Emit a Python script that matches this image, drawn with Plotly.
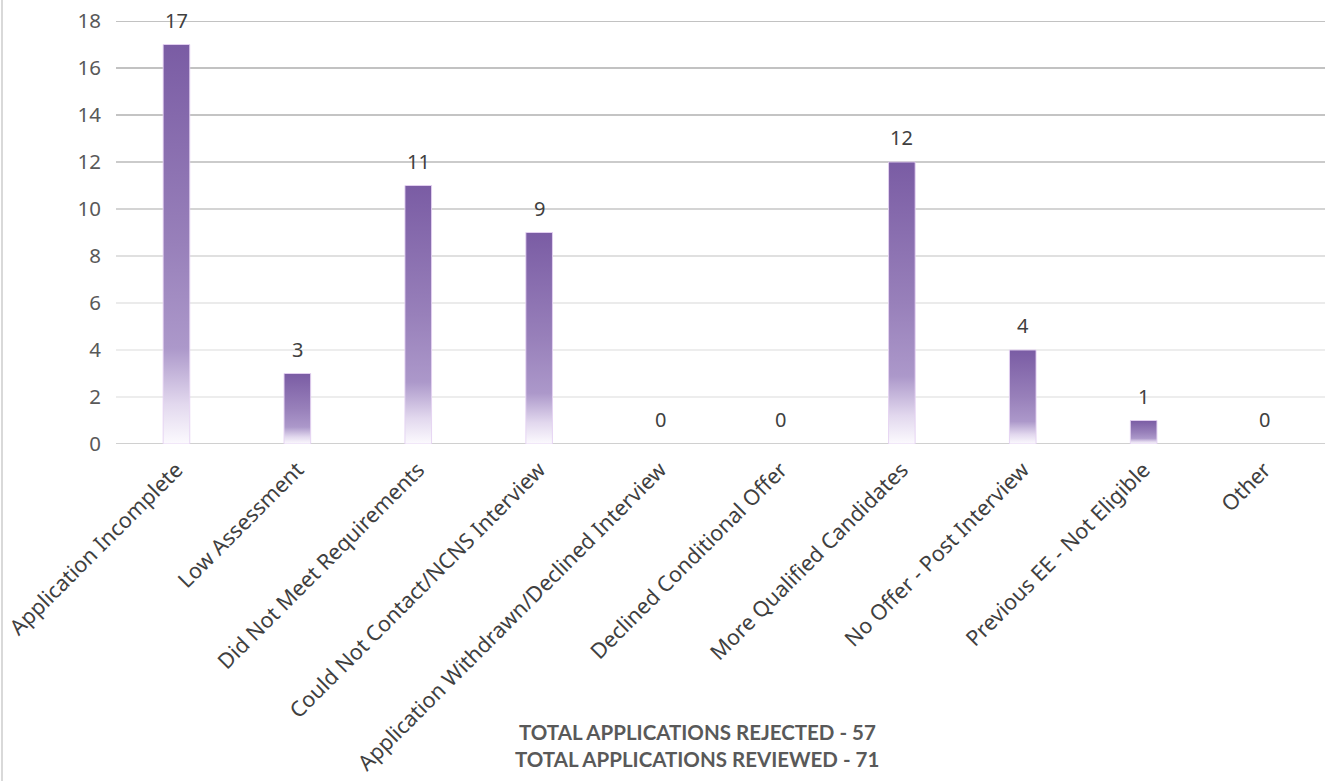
import plotly.graph_objects as go

categories = [
    "Application Incomplete",
    "Low Assessment",
    "Did Not Meet Requirements",
    "Could Not Contact/NCNS Interview",
    "Application Withdrawn/Declined Interview",
    "Declined Conditional Offer",
    "More Qualified Candidates",
    "No Offer - Post Interview",
    "Previous EE - Not Eligible",
    "Other",
]
counts = [17, 3, 11, 9, 0, 0, 12, 4, 1, 0]
y_ticks = [0, 2, 4, 6, 8, 10, 12, 14, 16, 18]
footer_lines = [
    "TOTAL APPLICATIONS REJECTED - 57",
    "TOTAL APPLICATIONS REVIEWED - 71",
]

W, H = 1333, 781
M_L, M_R, M_T, M_B = 116, 8, 21, 337
HALF_W = 0.11  # half bar width in category units
FONT = "Noto Sans, Open Sans, sans-serif"

# purple at the top, lavender through the body, fading to white at the base
bar_scale = [
    [0.0, "rgb(252,250,254)"],
    [0.1, "rgb(226,216,238)"],
    [0.24, "rgb(172,152,202)"],
    [0.5, "rgb(152,128,186)"],
    [1.0, "rgb(122,92,164)"],
]

fig = go.Figure()

for i, v in enumerate(counts):
    if v <= 0:
        continue
    fig.add_trace(go.Scatter(
        x=[i - HALF_W, i - HALF_W, i + HALF_W, i + HALF_W, i - HALF_W],
        y=[0, v, v, 0, 0],
        mode="lines",
        fill="toself",
        fillgradient=dict(type="vertical", colorscale=bar_scale, start=0, stop=v),
        line=dict(color="rgba(228,210,242,0.9)", width=1),
        hoverinfo="text",
        text=f"{categories[i]}: {v}",
        showlegend=False,
    ))

# value labels above each bar
for i, v in enumerate(counts):
    fig.add_annotation(
        x=i, y=v, text=str(v), showarrow=False,
        yanchor="bottom", yshift=9,
        font=dict(family=FONT, size=20, color="#404040"),
    )

# horizontal gridlines, darker toward the top
grid_colors = {0: "#d0d0d0", 2: "#ededed", 4: "#ededed", 6: "#ebebeb", 8: "#e0e0e0",
               10: "#d4d4d4", 12: "#cbcbcb", 14: "#c4c4c4", 16: "#c2c2c2", 18: "#c2c2c2"}
shapes = []
for t in y_ticks:
    shapes.append(dict(
        type="line", xref="paper", yref="y", x0=0, x1=1, y0=t, y1=t,
        line=dict(color=grid_colors[t], width=2), layer="below",
    ))

# outer frame line at the left edge
plot_w = W - M_L - M_R
plot_h = H - M_T - M_B
shapes.append(dict(
    type="line", xref="paper", yref="paper",
    x0=-(M_L - 2) / plot_w, x1=-(M_L - 2) / plot_w,
    y0=-M_B / plot_h, y1=1 + M_T / plot_h,
    line=dict(color="#d9d9d9", width=2),
))

for k, line in enumerate(footer_lines):
    fig.add_annotation(
        xref="paper", yref="paper",
        x=(697 - M_L) / plot_w,
        y=-(732 + 27 * k - M_T - plot_h) / plot_h,
        text=f"<b>{line}</b>", showarrow=False,
        xanchor="center", yanchor="middle",
        font=dict(family="Lato", size=20.5, color="#595959"),
    )

fig.update_layout(
    width=W, height=H,
    margin=dict(l=M_L, r=M_R, t=M_T, b=M_B, pad=0, autoexpand=False),
    paper_bgcolor="white", plot_bgcolor="white",
    shapes=shapes,
    xaxis=dict(
        range=[-0.5, len(categories) - 0.5],
        tickmode="array", tickvals=list(range(len(categories))), ticktext=categories,
        tickangle=-45, showgrid=False, zeroline=False, showline=False, ticks="",
        tickfont=dict(family=FONT, size=21.5, color="#404040"),
        ticklabelstandoff=8, automargin=False,
        fixedrange=True,
    ),
    yaxis=dict(
        range=[0, 18], tickmode="array", tickvals=y_ticks,
        showgrid=False, zeroline=False, showline=False, ticks="",
        tickfont=dict(family=FONT, size=20.5, color="#595959"),
        ticklabelstandoff=14, automargin=False,
        fixedrange=True,
    ),
)

fig.write_html("out.html")
